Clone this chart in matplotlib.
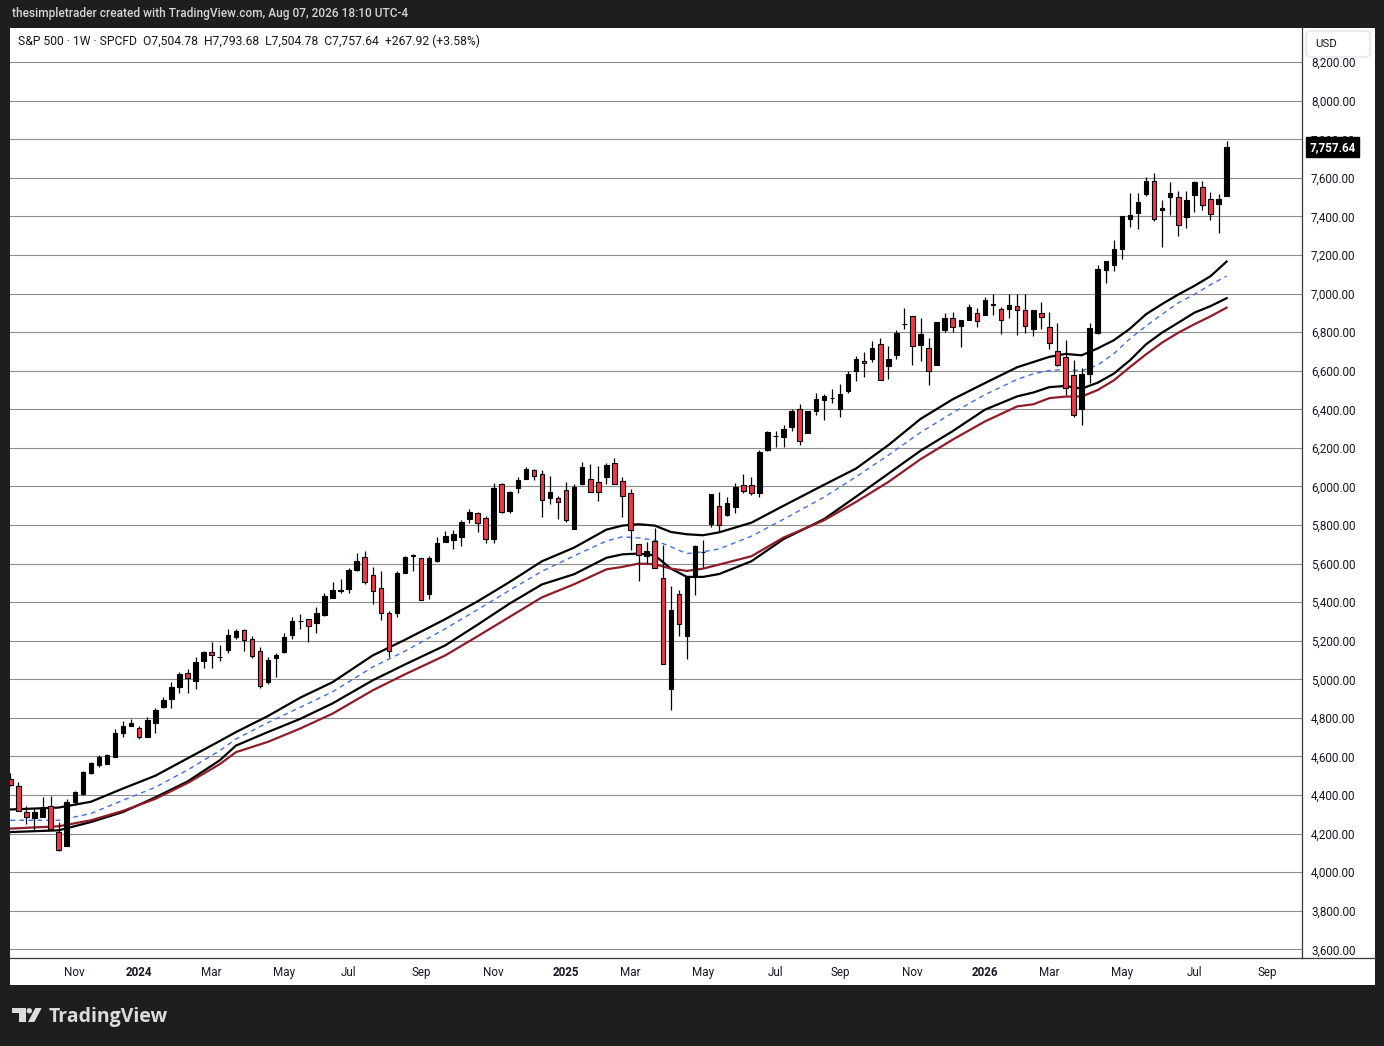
import matplotlib
matplotlib.use("Agg")
import matplotlib.pyplot as plt
from matplotlib.patches import Rectangle, FancyBboxPatch, Polygon, Ellipse
from matplotlib.lines import Line2D
import matplotlib.transforms as mtrans
import numpy as np
import pandas as pd

plt.rcParams['font.family'] = ['Roboto', 'DejaVu Sans']

# ---------------- data (weekly S&P 500 CFD) ----------------
FIRST_WEEK = "2023-09-11"

opens = [4481, 4446, 4311, 4283, 4288, 4345, 4210, 4134, 4363, 4404,
         4512, 4557, 4561, 4595, 4724, 4758, 4748, 4703, 4772, 4855,
         4897, 4959, 5032, 4991, 5095, 5140, 5114, 5152, 5217, 5255,
         5210, 5145, 4986, 5110, 5141, 5228, 5300, 5314, 5293, 5334,
         5424, 5457, 5466, 5566, 5634, 5541, 5472, 5345, 5345, 5552,
         5638, 5629, 5443, 5615, 5712, 5722, 5739, 5829, 5863, 5835,
         5725, 6011, 5873, 5994, 6038, 6083, 6062, 5942, 5942, 5983,
         5780, 6014, 6038, 6025, 6049, 6121, 6026, 5967, 5704, 5638,
         5718, 5527, 4952, 5444, 5226, 5531, 5658, 5804, 5901, 5853,
         5894, 6005, 6005, 5967, 6189, 6260, 6255, 6306, 6400, 6275,
         6390, 6448, 6458, 6400, 6494, 6601, 6653, 6660, 6736, 6622,
         6684, 6840, 6882, 6733, 6716, 6632, 6809, 6875, 6830, 6865,
         6899, 6889, 6942, 6920, 6920, 6934, 6917, 6817, 6901, 6825,
         6701, 6673, 6576, 6403, 6583, 6798, 7122, 7150, 7230, 7385,
         7416, 7517, 7582, 7434, 7499, 7499, 7396, 7510, 7551, 7489,
         7465, 7504.78]
highs = [4512, 4467, 4342, 4335, 4390, 4394, 4262, 4377, 4422, 4522,
         4571, 4606, 4613, 4741, 4786, 4796, 4758, 4803, 4849, 4907,
         4984, 5036, 5053, 5116, 5147, 5195, 5179, 5262, 5262, 5262,
         5224, 5166, 5114, 5138, 5241, 5324, 5338, 5314, 5376, 5448,
         5503, 5521, 5579, 5655, 5666, 5583, 5562, 5355, 5562, 5641,
         5648, 5629, 5639, 5736, 5767, 5774, 5825, 5884, 5870, 5849,
         6018, 6018, 5976, 6049, 6100, 6093, 6086, 6052, 5949, 6021,
         6014, 6128, 6117, 6104, 6124, 6148, 6047, 5988, 5704, 5714,
         5787, 5697, 5482, 5461, 5534, 5697, 5721, 5960, 5971, 5946,
         6019, 6064, 6050, 6189, 6289, 6289, 6317, 6400, 6428, 6393,
         6483, 6480, 6507, 6532, 6601, 6674, 6698, 6754, 6768, 6726,
         6809, 6924, 6882, 6872, 6771, 6851, 6899, 6903, 6861, 6948,
         6927, 6983, 6997, 6931, 7000, 6997, 7000, 6915, 6957, 6905,
         6846, 6760, 6656, 6614, 6846, 7150, 7167, 7278, 7402, 7523,
         7523, 7603, 7624, 7485, 7579, 7530, 7530, 7582, 7586, 7527,
         7517, 7793.68]
lows = [4448, 4316, 4248, 4217, 4288, 4217, 4110, 4134, 4349, 4398,
        4509, 4547, 4561, 4595, 4703, 4758, 4689, 4703, 4720, 4849,
        4849, 4928, 4928, 4952, 5060, 5060, 5093, 5135, 5207, 5145,
        5110, 4955, 4976, 5010, 5138, 5210, 5259, 5193, 5238, 5328,
        5421, 5445, 5445, 5562, 5493, 5393, 5307, 5117, 5324, 5552,
        5559, 5409, 5416, 5608, 5712, 5677, 5691, 5808, 5763, 5708,
        5705, 5860, 5860, 5966, 6038, 6035, 5839, 5908, 5832, 5815,
        5777, 6007, 5970, 5925, 6011, 6014, 5842, 5673, 5510, 5603,
        5579, 5077, 4842, 5222, 5105, 5437, 5583, 5790, 5770, 5846,
        5863, 5967, 5957, 5946, 6182, 6206, 6206, 6286, 6216, 6275,
        6369, 6345, 6431, 6362, 6483, 6549, 6570, 6643, 6552, 6556,
        6660, 6816, 6632, 6650, 6525, 6632, 6799, 6801, 6722, 6861,
        6827, 6889, 6889, 6788, 6872, 6785, 6795, 6779, 6818, 6715,
        6625, 6473, 6362, 6320, 6538, 6791, 7053, 7116, 7181, 7344,
        7337, 7506, 7375, 7243, 7409, 7299, 7340, 7423, 7434, 7382,
        7316, 7504.78]
closes = [4450, 4318, 4288, 4311, 4335, 4224, 4116, 4363, 4418, 4519,
          4564, 4599, 4609, 4720, 4758, 4772, 4699, 4790, 4842, 4894,
          4959, 5029, 5005, 5091, 5143, 5126, 5117, 5231, 5252, 5203,
          5121, 4966, 5100, 5128, 5221, 5303, 5304, 5278, 5346, 5431,
          5464, 5460, 5567, 5615, 5505, 5459, 5346, 5145, 5552, 5634,
          5645, 5409, 5629, 5705, 5743, 5753, 5815, 5866, 5808, 5729,
          5994, 5870, 5970, 6031, 6093, 6052, 5932, 5973, 5921, 5825,
          5997, 6100, 5970, 5970, 6111, 6014, 5953, 5773, 5645, 5666,
          5579, 5077, 5361, 5285, 5534, 5690, 5662, 5960, 5801, 5912,
          5998, 5977, 5967, 6178, 6282, 6262, 6296, 6390, 6237, 6390,
          6452, 6468, 6460, 6480, 6584, 6660, 6639, 6716, 6552, 6663,
          6795, 6844, 6729, 6788, 6598, 6851, 6872, 6827, 6861, 6931,
          6858, 6965, 6945, 6865, 6941, 6917, 6834, 6914, 6880, 6742,
          6632, 6511, 6369, 6583, 6822, 7126, 7167, 7230, 7402, 7409,
          7475, 7582, 7385, 7444, 7520, 7354, 7485, 7579, 7458, 7413,
          7490, 7757.64]

# moving-average lines, read at selected weeks (week index from FIRST_WEEK)
ma_week = [0, 6, 10, 14, 18, 22, 26, 28, 32, 36, 40, 45, 49, 54, 58, 62, 66,
           70, 74, 76, 78, 80, 82, 84, 86, 88, 92, 96, 101, 105, 109, 113,
           117, 121, 125, 127, 129, 131, 133, 135, 137, 139, 141, 143, 145,
           147, 149, 151]
ma_upper = [4325, 4335, 4365, 4434, 4500, 4590, 4680, 4726, 4810, 4905, 4985,
            5124, 5205, 5312, 5404, 5505, 5612, 5683, 5776, 5797, 5804, 5797,
            5764, 5752, 5747, 5762, 5812, 5900, 6008, 6093, 6214, 6350, 6452,
            6536, 6618, 6645, 6672, 6687, 6680, 6716, 6758, 6818, 6893, 6946,
            6995, 7040, 7090, 7166]
ma_mid = [4269, 4269, 4304, 4373, 4440, 4530, 4630, 4690, 4776, 4855, 4935,
          5064, 5146, 5262, 5361, 5462, 5560, 5640, 5717, 5739, 5733, 5721,
          5687, 5652, 5661, 5676, 5742, 5830, 5944, 6050, 6162, 6280, 6382,
          6476, 6555, 6584, 6601, 6607, 6600, 6630, 6688, 6766, 6832, 6893,
          6952, 6996, 7046, 7091]
ma_lower = [4208, 4217, 4260, 4312, 4388, 4470, 4580, 4656, 4727, 4795, 4875,
            4995, 5077, 5176, 5283, 5393, 5492, 5545, 5630, 5648, 5652, 5643,
            5574, 5531, 5531, 5546, 5612, 5727, 5830, 5947, 6066, 6185, 6287,
            6398, 6467, 6487, 6515, 6521, 6507, 6538, 6585, 6654, 6737, 6798,
            6849, 6901, 6935, 6976]
ma_red = [4226, 4238, 4269, 4318, 4380, 4462, 4560, 4622, 4676, 4745, 4822,
          4943, 5026, 5124, 5223, 5324, 5425, 5493, 5570, 5583, 5600, 5597,
          5574, 5562, 5574, 5595, 5638, 5735, 5824, 5920, 6023, 6141, 6243,
          6337, 6415, 6426, 6458, 6466, 6466, 6500, 6550, 6619, 6685, 6746,
          6797, 6841, 6882, 6927]

tick_months = ['2023-11', '2024-01', '2024-03', '2024-05', '2024-07', '2024-09',
               '2024-11', '2025-01', '2025-03', '2025-05', '2025-07', '2025-09',
               '2025-11', '2026-01', '2026-03', '2026-05', '2026-07', '2026-09']
tick_labels = ['Nov', '2024', 'Mar', 'May', 'Jul', 'Sep', 'Nov', '2025', 'Mar',
               'May', 'Jul', 'Sep', 'Nov', '2026', 'Mar', 'May', 'Jul', 'Sep']
price_ticks = list(range(3600, 8201, 200))

header = "thesimpletrader created with TradingView.com, Aug 07, 2026 18:10 UTC-4"
legend = ("S&P 500 \u00b7 1W \u00b7 SPCFD  O7,504.78  H7,793.68  L7,504.78  "
          "C7,757.64  +267.92 (+3.58%)")
last_price = closes[-1]

# ---------------- figure ----------------
W, H = 1384, 1046
DARK = '#1e1e1e'
TXT = '#131722'
fig = plt.figure(figsize=(W / 100, H / 100), dpi=100, facecolor=DARK)


def fx(px):
    return px / W


def fy(py):
    return 1 - py / H


# white panel
fig.patches.append(Rectangle((fx(10), fy(985)), fx(1375) - fx(10), fy(28) - fy(985),
                             transform=fig.transFigure, fc='white', ec='none',
                             zorder=-5))

ax = fig.add_axes([fx(10), fy(958), fx(1302) - fx(10), fy(28) - fy(958)])
ax.set_facecolor('white')

start = pd.Timestamp(FIRST_WEEK)
n = len(opens)
x = np.arange(n)
o = np.array(opens, float)
h = np.array(highs, float)
l = np.array(lows, float)
c = np.array(closes, float)

# moving averages
ax.plot(ma_week, ma_upper, color='black', lw=1.6, zorder=2, solid_joinstyle='round')
ax.plot(ma_week, ma_mid, color='#3f6fe6', lw=1.0, ls=(0, (3.5, 3)), zorder=2)
ax.plot(ma_week, ma_lower, color='black', lw=1.6, zorder=2, solid_joinstyle='round')
ax.plot(ma_week, ma_red, color='#8e1d27', lw=1.6, zorder=2, solid_joinstyle='round')

# candles
up = c >= o
mid = (o + c) / 2
bh = np.maximum(np.abs(c - o), 4)
colors = np.where(up, 'black', '#f23645')
ax.vlines(x, l, h, color='black', lw=0.9, zorder=3)
ax.bar(x, bh, bottom=mid - bh / 2, width=0.56, color=colors, edgecolor='black',
       linewidth=0.8, zorder=4)

# axes limits
ax.set_xlim(-0.04, 160.36)
ax.set_ylim(3555, 8377)

# price axis
ax.yaxis.tick_right()
ax.set_yticks(price_ticks)
ax.set_yticklabels([f"{v:,.2f}" for v in price_ticks])
ax.tick_params(axis='y', length=0, pad=6.5, labelsize=8.4, labelcolor=TXT)
ax.grid(axis='y', color='#8c8c8c', lw=0.8)
ax.set_axisbelow(True)

# time axis
tick_pos = []
for m in tick_months:
    first = pd.Timestamp(m + '-01')
    monday = first + pd.Timedelta(days=(7 - first.weekday()) % 7)
    tick_pos.append((monday - start).days / 7)
ax.set_xticks(tick_pos)
ax.set_xticklabels(tick_labels)
ax.tick_params(axis='x', length=0, pad=6, labelsize=8.4, labelcolor=TXT)
for lab in ax.get_xticklabels():
    if lab.get_text().isdigit():
        lab.set_fontweight('bold')

for s in ['top', 'left']:
    ax.spines[s].set_visible(False)
ax.spines['right'].set_color('#3a3a3a')
ax.spines['bottom'].set_color('#3a3a3a')
ax.spines['right'].set_linewidth(0.9)
ax.spines['bottom'].set_linewidth(0.9)

fig.lines.append(Line2D([fx(1302), fx(1375)], [fy(958), fy(958)],
                        transform=fig.transFigure, color='#3a3a3a', lw=0.9))

# last price label
trans = mtrans.offset_copy(mtrans.blended_transform_factory(ax.transAxes, ax.transData),
                           fig=fig, x=7.5, y=0, units='dots')
ax.text(1.0, last_price, f"{last_price:,.2f}", transform=trans, ha='left',
        va='center', color='white', fontsize=8.4, fontweight='bold',
        bbox=dict(boxstyle='square,pad=0.3', fc='black', ec='black'),
        clip_on=False, zorder=10)

# USD box
fig.patches.append(FancyBboxPatch((fx(1306), fy(57)), fx(1370) - fx(1306), fy(31) - fy(57),
                                  boxstyle='round,pad=0,rounding_size=0.004',
                                  transform=fig.transFigure, fc='white',
                                  ec='#e0e3eb', lw=1.0, zorder=20))
fig.text(fx(1315), fy(44), 'USD', ha='left', va='center', fontsize=8.2, color=TXT,
         zorder=21)

# header / legend
fig.text(fx(12), fy(14), header, ha='left', va='center', fontsize=8.6,
         color='#d6d6d6', fontweight='medium')
fig.text(fx(18), fy(41.5), legend, ha='left', va='center', fontsize=8.75, color=TXT,
         zorder=22)

# TradingView logo
logo_c = '#dcdcdc'
fig.patches.append(Polygon([(fx(12.3), fy(1008)), (fx(26), fy(1008)), (fx(26), fy(1022)),
                            (fx(19.3), fy(1022)), (fx(19.3), fy(1013.3)),
                            (fx(12.3), fy(1013.3))],
                           closed=True, transform=fig.transFigure, fc=logo_c, ec='none'))
fig.patches.append(Ellipse((fx(29.3), fy(1010.8)), 5.4 / W, 5.4 / H,
                           transform=fig.transFigure, fc=logo_c, ec='none'))
fig.patches.append(Polygon([(fx(28), fy(1022)), (fx(34.3), fy(1022)),
                            (fx(41.7), fy(1008)), (fx(35.3), fy(1008))],
                           closed=True, transform=fig.transFigure, fc=logo_c, ec='none'))
fig.text(fx(49), fy(1022.3), 'TradingView', ha='left', va='baseline', fontsize=14,
         fontweight='bold', color=logo_c, family=['Open Sans', 'DejaVu Sans'])

fig.savefig('out.png', dpi=100, facecolor=DARK)
